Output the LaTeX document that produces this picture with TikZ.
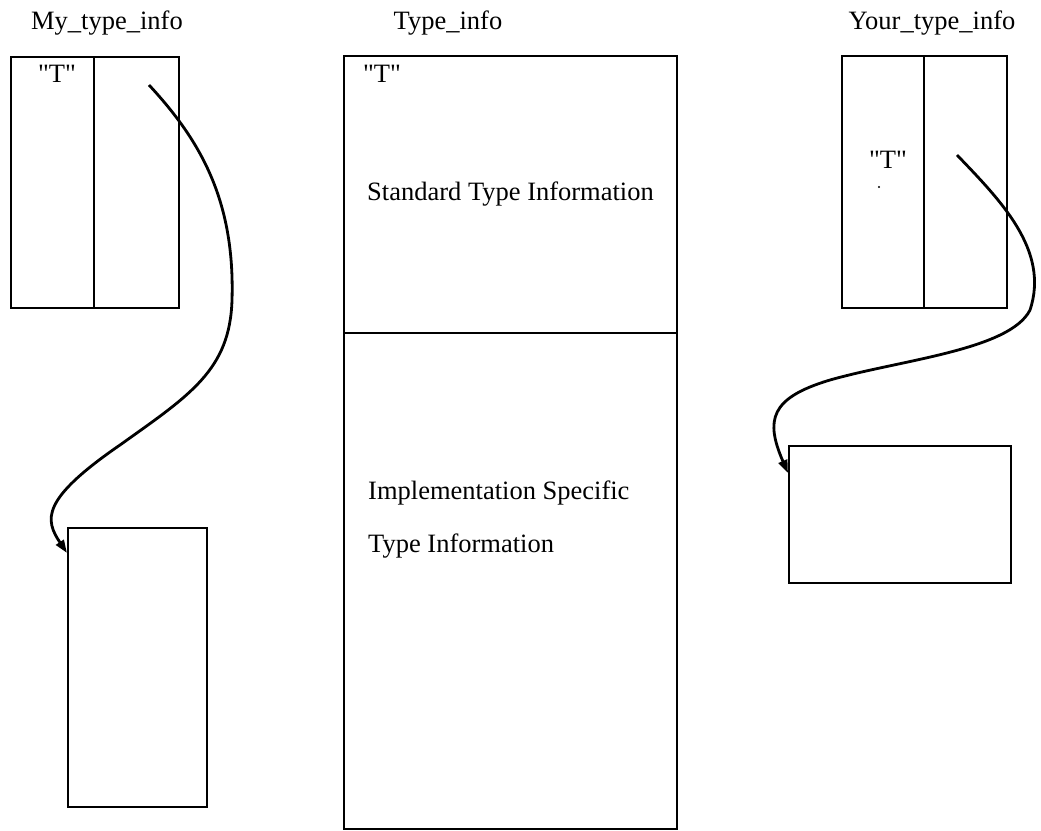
\documentclass[tikz,border=0pt]{standalone}
\usepackage{fontspec}
\setmainfont{Liberation Serif}[Ligatures=TeXOff]
\usetikzlibrary{arrows.meta}
\begin{document}
\begin{tikzpicture}[x=1pt,y=-1pt,
  box/.style={draw,line width=1.6pt,inner sep=0pt,anchor=north west},
  lbl/.style={font=\fontsize{26.5}{30}\selectfont,inner sep=0pt},
  link/.style={line width=2.8pt,-{Triangle[length=13pt,width=9pt]}}]
\useasboundingbox (0,0) rectangle (1041,830);
% titles
\node[lbl,anchor=base] (t1) at (107,29) {My\_type\_info};
\node[lbl,anchor=base] (t2) at (448,29) {Type\_info};
\node[lbl,anchor=base] (t3) at (932,29) {Your\_type\_info};
% left structure
\node[box,minimum width=168pt,minimum height=251pt] (lb) at (10,56) {};
\draw[line width=1.3pt] (94,56) -- (94,307);
\node[lbl,anchor=base] (lt) at (57,82) {"T"};
\coordinate (ls) at (149,85);
\node[box,minimum width=139pt,minimum height=279pt] (llb) at (67,527) {};
\coordinate (le) at (67,553);
% middle structure
\node[box,minimum width=333pt,minimum height=773pt] (mb) at (343,55) {};
\draw[line width=2.6pt] (mb.west |- 0,333) -- (mb.east |- 0,333);
\node[lbl,anchor=base] (mt) at (382,82) {"T"};
\node[lbl,anchor=base west] (std) at (367,200) {Standard Type Information};
\node[lbl,anchor=base west] (imp) at (368,499) {Implementation Specific};
\node[lbl,anchor=base west] (tin) at (368,552) {Type Information};
% right structure
\node[box,minimum width=165pt,minimum height=252pt] (rb) at (841,55) {};
\draw[line width=1.3pt] (924,55) -- (924,307);
\node[lbl,anchor=base] (rt) at (888,168) {"T"};
\fill (879,187) circle (1.2pt);
\coordinate (rs) at (957,155);
\node[box,minimum width=222pt,minimum height=137pt] (rlb) at (788,445) {};
\coordinate (re) at (788,473);
% connectors
\draw[link] (ls) .. controls (200,140) and (235,200) .. (232,300)
  .. controls (230,370) and (190,395) .. (120,445)
  .. controls (40,500) and (45,520) .. (le);
\draw[link] (rs) .. controls (1000,200) and (1050,250) .. (1030,310)
  .. controls (1010,350) and (900,360) .. (830,380)
  .. controls (770,398) and (765,420) .. (re);
\end{tikzpicture}
\end{document}
